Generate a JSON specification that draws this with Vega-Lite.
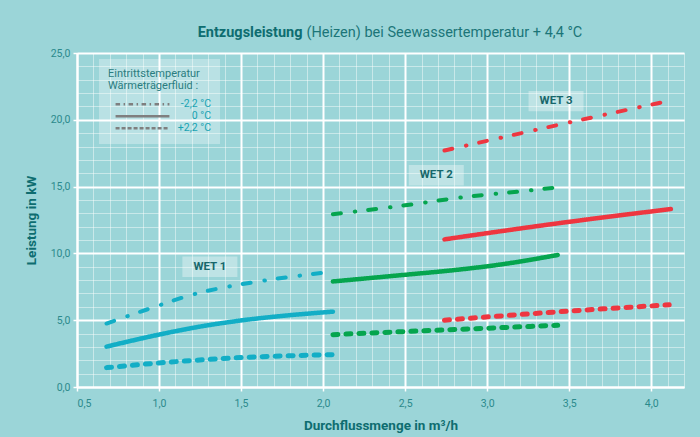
{
  "$schema": "https://vega.github.io/schema/vega-lite/v6.json",
  "width": 607,
  "height": 334,
  "autosize": {"type": "none"},
  "padding": {"left": 77, "top": 53, "right": 16, "bottom": 50},
  "background": "#9bd5d8",
  "config": {
    "locale": {"number": {"decimal": ",", "thousands": ".", "grouping": [3], "currency": ["", " €"]}},
    "view": {"stroke": null},
    "font": "Roboto, sans-serif"
  },
  "datasets": {
    "lines": [
      {"wet": "WET 1", "temp": "-2,2 °C", "x": 0.68, "y": 4.75},
      {"wet": "WET 1", "temp": "-2,2 °C", "x": 0.95, "y": 5.9},
      {"wet": "WET 1", "temp": "-2,2 °C", "x": 1.23, "y": 7.0},
      {"wet": "WET 1", "temp": "-2,2 °C", "x": 1.46, "y": 7.6},
      {"wet": "WET 1", "temp": "-2,2 °C", "x": 1.66, "y": 8.0},
      {"wet": "WET 1", "temp": "-2,2 °C", "x": 1.88, "y": 8.37},
      {"wet": "WET 1", "temp": "-2,2 °C", "x": 2.03, "y": 8.6},
      {"wet": "WET 1", "temp": "0 °C", "x": 0.68, "y": 3.02},
      {"wet": "WET 1", "temp": "0 °C", "x": 1.0, "y": 3.92},
      {"wet": "WET 1", "temp": "0 °C", "x": 1.25, "y": 4.52},
      {"wet": "WET 1", "temp": "0 °C", "x": 1.5, "y": 4.98},
      {"wet": "WET 1", "temp": "0 °C", "x": 1.75, "y": 5.32},
      {"wet": "WET 1", "temp": "0 °C", "x": 2.06, "y": 5.64},
      {"wet": "WET 1", "temp": "+2,2 °C", "x": 0.68, "y": 1.45},
      {"wet": "WET 1", "temp": "+2,2 °C", "x": 1.0, "y": 1.8},
      {"wet": "WET 1", "temp": "+2,2 °C", "x": 1.5, "y": 2.2},
      {"wet": "WET 1", "temp": "+2,2 °C", "x": 2.06, "y": 2.42},
      {"wet": "WET 2", "temp": "-2,2 °C", "x": 2.06, "y": 12.93},
      {"wet": "WET 2", "temp": "-2,2 °C", "x": 2.5, "y": 13.6},
      {"wet": "WET 2", "temp": "-2,2 °C", "x": 2.85, "y": 14.2},
      {"wet": "WET 2", "temp": "-2,2 °C", "x": 3.29, "y": 14.75},
      {"wet": "WET 2", "temp": "-2,2 °C", "x": 3.43, "y": 14.95},
      {"wet": "WET 2", "temp": "0 °C", "x": 2.06, "y": 7.9},
      {"wet": "WET 2", "temp": "0 °C", "x": 2.5, "y": 8.4},
      {"wet": "WET 2", "temp": "0 °C", "x": 2.8, "y": 8.75},
      {"wet": "WET 2", "temp": "0 °C", "x": 3.1, "y": 9.2},
      {"wet": "WET 2", "temp": "0 °C", "x": 3.43, "y": 9.88},
      {"wet": "WET 2", "temp": "+2,2 °C", "x": 2.06, "y": 3.92},
      {"wet": "WET 2", "temp": "+2,2 °C", "x": 2.5, "y": 4.15},
      {"wet": "WET 2", "temp": "+2,2 °C", "x": 3.0, "y": 4.4},
      {"wet": "WET 2", "temp": "+2,2 °C", "x": 3.43, "y": 4.62},
      {"wet": "WET 3", "temp": "-2,2 °C", "x": 2.74, "y": 17.7},
      {"wet": "WET 3", "temp": "-2,2 °C", "x": 3.5, "y": 19.8},
      {"wet": "WET 3", "temp": "-2,2 °C", "x": 4.1, "y": 21.4},
      {"wet": "WET 3", "temp": "0 °C", "x": 2.74, "y": 11.05},
      {"wet": "WET 3", "temp": "0 °C", "x": 3.4, "y": 12.2},
      {"wet": "WET 3", "temp": "0 °C", "x": 4.12, "y": 13.32},
      {"wet": "WET 3", "temp": "+2,2 °C", "x": 2.74, "y": 5.0},
      {"wet": "WET 3", "temp": "+2,2 °C", "x": 3.4, "y": 5.6},
      {"wet": "WET 3", "temp": "+2,2 °C", "x": 4.11, "y": 6.15}
    ],
    "labels": [
      {"label": "WET 1", "x": 1.31, "y": 9.0},
      {"label": "WET 2", "x": 2.69, "y": 15.85},
      {"label": "WET 3", "x": 3.42, "y": 21.4}
    ]
  },
  "layer": [
    {
      "data": {"name": "lines"},
      "mark": {"type": "line", "opacity": 0},
      "encoding": {
        "x": {
          "field": "x", "type": "quantitative",
          "scale": {"domain": [0.5, 4.2], "nice": false, "zero": false},
          "axis": {
            "orient": "top", "values": [0.5,0.6,0.7,0.8,0.9,1.0,1.1,1.2,1.3,1.4,1.5,1.6,1.7,1.8,1.9,2.0,2.1,2.2,2.3,2.4,2.5,2.6,2.7,2.8,2.9,3.0,3.1,3.2,3.3,3.4,3.5,3.6,3.7,3.8,3.9,4.0,4.1,4.2],
            "grid": true, "gridColor": "#ffffff", "gridOpacity": 0.45, "gridWidth": 1,
            "labels": false, "ticks": false, "domain": false,
            "title": "(Heizen) bei Seewassertemperatur + 4,4 °C",
            "titleFontSize": 14.5, "titleFontWeight": "normal", "titleColor": "#1b7578",
            "titleX": 229, "titleY": -17, "titleAlign": "left", "titleBaseline": "alphabetic", "titleAngle": 0
          }
        },
        "y": {
          "field": "y", "type": "quantitative",
          "scale": {"domain": [0, 25], "nice": false},
          "axis": {
            "orient": "right", "values": [0,1,2,3,4,5,6,7,8,9,10,11,12,13,14,15,16,17,18,19,20,21,22,23,24,25],
            "grid": true, "gridColor": "#ffffff", "gridOpacity": 0.45, "gridWidth": 1,
            "labels": false, "ticks": false, "domain": false,
            "title": "Entzugsleistung",
            "titleFontSize": 14.5, "titleFontWeight": "bold", "titleColor": "#0e6d70",
            "titleX": -382, "titleY": -17, "titleAlign": "right", "titleBaseline": "alphabetic", "titleAngle": 0
          }
        }
      }
    },
    {
      "data": {"name": "lines"},
      "mark": {"type": "line", "interpolate": "monotone", "strokeCap": "round"},
      "encoding": {
        "x": {
          "field": "x", "type": "quantitative",
          "axis": {
            "orient": "bottom", "values": [0.5,1.0,1.5,2.0,2.5,3.0,3.5,4.0], "format": ".1f",
            "grid": true, "gridColor": "#ffffff", "gridOpacity": 1, "gridWidth": 2,
            "domain": true, "domainColor": "#ffffff", "domainWidth": 2,
            "ticks": true, "tickColor": "#ffffff", "tickSize": 4, "tickWidth": 1.5,
            "labelColor": "#2b8a8c", "labelFontSize": 10.5, "labelPadding": 7,
            "title": "Durchflussmenge in m³/h", "titleColor": "#0e6d70", "titleFontSize": 13.5, "titleFontWeight": "bold", "titlePadding": 10
          }
        },
        "y": {
          "field": "y", "type": "quantitative",
          "axis": {
            "orient": "left", "values": [0,5,10,15,20,25], "format": ".1f",
            "grid": true, "gridColor": "#ffffff", "gridOpacity": 1, "gridWidth": 2,
            "domain": true, "domainColor": "#ffffff", "domainWidth": 2,
            "ticks": true, "tickColor": "#ffffff", "tickSize": 4, "tickWidth": 1.5,
            "labelColor": "#2b8a8c", "labelFontSize": 10.5, "labelPadding": 3,
            "title": "Leistung in kW", "titleColor": "#0e6d70", "titleFontSize": 13.5, "titleFontWeight": "bold", "titlePadding": 12
          }
        },
        "color": {
          "field": "wet", "type": "nominal",
          "scale": {"domain": ["WET 1", "WET 2", "WET 3"], "range": ["#12aec6", "#05a54e", "#ee3640"]},
          "legend": null
        },
        "strokeDash": {
          "field": "temp", "type": "nominal",
          "scale": {"domain": ["-2,2 °C", "0 °C", "+2,2 °C"], "range": [[8, 14, 0.5, 13], [1, 0], [5, 8]]},
          "legend": null
        },
        "strokeWidth": {
          "field": "temp", "type": "nominal",
          "scale": {"domain": ["-2,2 °C", "0 °C", "+2,2 °C"], "range": [4, 5, 4]},
          "legend": null
        },
        "detail": {"field": "wet"}
      }
    },
    {
      "data": {"name": "lines"},
      "mark": {"type": "line", "opacity": 0},
      "encoding": {
        "x": {"field": "x", "type": "quantitative", "axis": null},
        "y": {"field": "y", "type": "quantitative", "axis": null},
        "detail": {"field": "wet"},
        "strokeDash": {
          "field": "temp", "type": "nominal",
          "scale": {"domain": ["-2,2 °C", "0 °C", "+2,2 °C"], "range": [[4.5, 3.5, 1.5, 3.5], [1, 0], [4, 2]]},
          "legend": {
            "orient": "none", "legendX": 22, "legendY": 6,
            "title": ["Eintrittstemperatur", "Wärmeträgerfluid :"],
            "titleFontWeight": "normal", "titleFontSize": 11, "titleColor": "#2a7d80", "titleLineHeight": 11.5, "titlePadding": 8,
            "fillColor": "rgba(255,255,255,0.3)", "padding": 9,
            "symbolType": "stroke", "symbolSize": 2900, "symbolStrokeColor": "#7f7f7f", "symbolStrokeWidth": 2.5, "symbolOffset": 6, "symbolOpacity": 1,
            "clipHeight": 11.7, "rowPadding": 0,
            "labelColor": "#18a3b3", "labelFontSize": 10.5, "labelAlign": "right", "labelOffset": 40
          }
        }
      }
    },
    {
      "data": {"name": "labels"},
      "layer": [
        {
          "mark": {"type": "point", "shape": "M-1,-0.37H1V0.37H-1Z", "filled": true, "color": "#ffffff", "opacity": 0.35, "strokeWidth": 0, "size": 3025},
          "encoding": {
            "x": {"field": "x", "type": "quantitative", "axis": null},
            "y": {"field": "y", "type": "quantitative", "axis": null}
          }
        },
        {
          "mark": {"type": "text", "fontWeight": "bold", "fontSize": 11.5, "color": "#17676b"},
          "encoding": {
            "x": {"field": "x", "type": "quantitative", "axis": null},
            "y": {"field": "y", "type": "quantitative", "axis": null},
            "text": {"field": "label"}
          }
        }
      ]
    }
  ],
  "resolve": {
    "axis": {"x": "independent", "y": "independent"},
    "scale": {"strokeDash": "independent"},
    "legend": {"strokeDash": "independent"}
  }
}
